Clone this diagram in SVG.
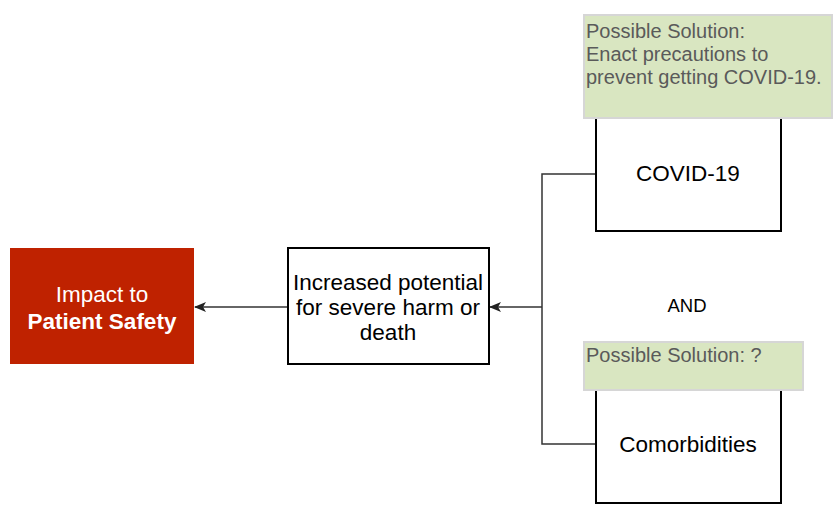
<svg xmlns="http://www.w3.org/2000/svg" width="839" height="513" viewBox="0 0 839 513">
<defs>
<style>
.box{fill:#fff;stroke:#000;stroke-width:2}
.sol{fill:#d9e6c1;stroke:#d6d6d6;stroke-width:2}
.t{font-family:"Liberation Sans",Arial,sans-serif;font-size:22.5px;fill:#000;text-anchor:middle}
.st{font-family:"Liberation Sans",Arial,sans-serif;font-size:20px;fill:#5a5a5a}
.c{fill:none;stroke:#333;stroke-width:1.5}
</style>
<marker id="ah" markerWidth="12" markerHeight="12" refX="11" refY="6" orient="auto" markerUnits="userSpaceOnUse">
<path d="M0,1 L12,6 L0,11 L3,6 Z" fill="#222"/>
</marker>
</defs>
<g id="connectors">
<path class="c" d="M596,174 H542 V444 H596"/>
<path class="c" d="M542,307 H490" marker-end="url(#ah)"/>
<path class="c" d="M288,307 H195" marker-end="url(#ah)"/>
</g>
<g id="impact">
<rect x="10" y="248" width="184" height="116" fill="#bf2200"/>
<text class="t" x="102" y="302" style="fill:#fff">Impact to</text>
<text class="t" x="102" y="329" style="fill:#fff;font-weight:bold">Patient Safety</text>
</g>
<g id="potential">
<rect class="box" x="288" y="248" width="201" height="116"/>
<text class="t" x="388" y="290">Increased potential</text>
<text class="t" x="388" y="315">for severe harm or</text>
<text class="t" x="388" y="340">death</text>
</g>
<g id="covid">
<rect class="box" x="596" y="110" width="185" height="121"/>
<text class="t" x="688" y="181">COVID-19</text>
</g>
<g id="solution1">
<rect class="sol" x="584" y="15" width="248" height="103"/>
<text class="st" x="586" y="38">Possible Solution:</text>
<text class="st" x="586" y="61">Enact precautions to</text>
<text class="st" x="586" y="84">prevent getting COVID-19.</text>
</g>
<g id="and">
<text class="t" x="687" y="312" style="font-size:18.5px">AND</text>
</g>
<g id="comorb">
<rect class="box" x="596" y="385" width="185" height="118"/>
<text class="t" x="688" y="452">Comorbidities</text>
</g>
<g id="solution2">
<rect class="sol" x="584" y="342" width="219" height="48"/>
<text class="st" x="586" y="362">Possible Solution: ?</text>
</g>
</svg>
